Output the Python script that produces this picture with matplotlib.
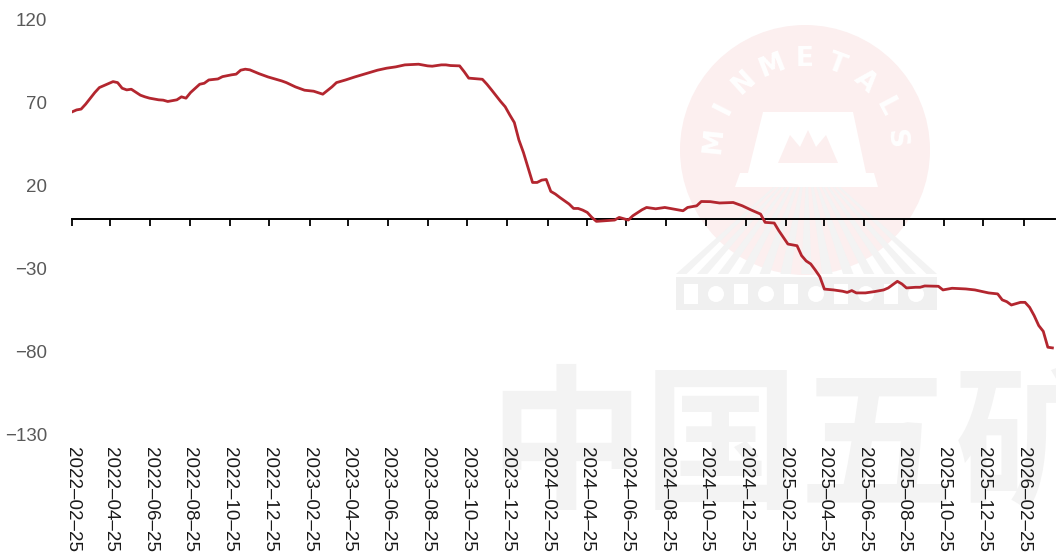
import numpy as np
import matplotlib
matplotlib.use("Agg")
import matplotlib.pyplot as plt
from matplotlib.patches import Ellipse, Polygon, Rectangle
from matplotlib.transforms import blended_transform_factory

# ---------------- data ----------------
start_date = "2022-02-25"
week_offsets = [0, 1, 2, 3, 5, 6, 8, 9, 10, 11, 12, 13, 15, 16, 17, 19, 20, 21, 23, 24,
                25, 26, 28, 29, 30, 32, 33, 35, 36, 37, 38, 39, 41, 43, 46, 47, 49, 51, 53, 55,
                57, 58, 60, 62, 65, 67, 69, 71, 73, 76, 78, 79, 81, 82, 83, 85, 86, 87, 90, 91,
                92, 94, 95, 96, 97, 98, 99, 100, 101, 102, 103, 104, 105, 106, 107, 109, 110, 111, 112, 113,
                114, 115, 117, 119, 120, 122, 123, 125, 126, 128, 130, 132, 134, 135, 137, 138, 140, 142, 145, 147,
                149, 151, 152, 154, 155, 156, 157, 159, 160, 161, 162, 163, 164, 165, 167, 169, 170, 171, 172, 174,
                176, 178, 179, 181, 182, 183, 185, 186, 187, 190, 191, 193, 196, 198, 201, 203, 204, 205, 206, 208,
                209, 210, 211, 212, 213, 214, 215]
values = [64.5, 65.7, 66.2, 69.2, 76.2, 79.2, 81.6, 82.8, 82.2, 78.8, 77.8, 78.2, 74.6, 73.6, 72.8, 71.8, 71.6, 70.8, 71.8, 73.6,
          72.8, 76.2, 81.2, 81.8, 83.8, 84.4, 85.8, 86.9, 87.3, 89.7, 90.3, 89.9, 87.6, 85.6, 83.2, 82.2, 79.6, 77.6, 77.0, 75.2,
          79.6, 82.2, 83.8, 85.6, 88.1, 89.7, 90.9, 91.7, 92.9, 93.3, 92.3, 92.1, 92.9, 92.9, 92.5, 92.3, 88.8, 84.9, 84.2, 81.2,
          77.8, 70.8, 67.6, 62.7, 58.1, 47.6, 40.0, 30.9, 21.9, 21.9, 23.3, 23.7, 16.5, 14.9, 12.8, 8.9, 6.2, 6.2, 5.2, 3.8,
          0.8, -1.6, -1.2, -0.8, 0.8, -0.8, 1.8, 5.4, 6.8, 6.0, 6.8, 5.8, 4.8, 6.8, 7.8, 10.4, 10.3, 9.5, 9.8, 7.8,
          5.2, 2.8, -2.2, -2.6, -7.2, -11.3, -15.3, -16.3, -22.3, -25.5, -27.3, -31.0, -35.0, -42.5, -43.0, -43.8, -44.5, -43.4, -44.8, -44.8,
          -44.0, -43.0, -41.8, -37.8, -39.4, -41.8, -41.4, -41.4, -40.6, -40.8, -43.0, -42.0, -42.4, -43.0, -44.8, -45.4, -49.0, -50.1, -52.1, -50.5,
          -50.5, -53.5, -58.5, -64.5, -68.0, -77.6, -78.0]
tick_labels = ["2022-02-25", "2022-04-25", "2022-06-25", "2022-08-25", "2022-10-25", "2022-12-25",
               "2023-02-25", "2023-04-25", "2023-06-25", "2023-08-25", "2023-10-25", "2023-12-25",
               "2024-02-25", "2024-04-25", "2024-06-25", "2024-08-25", "2024-10-25", "2024-12-25",
               "2025-02-25", "2025-04-25", "2025-06-25", "2025-08-25", "2025-10-25", "2025-12-25",
               "2026-02-25"]
y_ticks = [-130, -80, -30, 20, 70, 120]
x_end = "2026-04-14"

dates = np.datetime64(start_date) + np.array(week_offsets) * np.timedelta64(7, "D")

# ---------------- figure ----------------
W, H = 1056, 557
fig = plt.figure(figsize=(W / 100, H / 100), dpi=100)
fig.patch.set_facecolor("white")

def fp(x, y):
    return (x / W, 1 - y / H)

def add_poly(pts, color, z=-2):
    fig.add_artist(Polygon([fp(x, y) for x, y in pts], closed=True, transform=fig.transFigure,
                           facecolor=color, edgecolor="none", zorder=z))

# ---- watermark (figure pixel coordinates) ----
cx, cy, r = 805, 150, 125
fig.add_artist(Ellipse(fp(cx, cy), 2 * r / W, 2 * r / H, transform=fig.transFigure,
                       facecolor="#fcefef", edgecolor="none", zorder=-4))
# fan of grey rays
apex = (807, 157)
n_rays = 13
x0, x1 = 676, 937
edges = np.linspace(x0, x1, 2 * n_rays)
for k in range(n_rays):
    a, b = edges[2 * k], edges[2 * k + 1]
    add_poly([apex, (a, 274), (b, 274)], "#f3f3f3", z=-3)
# base bar with pattern
fig.add_artist(Rectangle(fp(676, 310), (937 - 676) / W, 33 / H, transform=fig.transFigure,
                         facecolor="#f0f0f0", edgecolor="none", zorder=-3))
for k in range(10):
    bx = 684 + k * 25
    if k % 2 == 0:
        fig.add_artist(Rectangle(fp(bx, 304), 14 / W, 20 / H, transform=fig.transFigure,
                                 facecolor="white", edgecolor="none", zorder=-2))
    else:
        fig.add_artist(Ellipse(fp(bx + 7, 294), 16 / W, 16 / H, transform=fig.transFigure,
                               facecolor="white", edgecolor="none", zorder=-2))
# white M
add_poly([(735, 187), (740, 173), (748, 173), (763, 112), (853, 112), (866, 173),
          (874, 173), (878, 187)], "white")
# pink inner mountain of the M
add_poly([(778, 163), (790, 135), (800, 147), (808, 130), (816, 147), (826, 135),
          (838, 163)], "#fcefef")
letters = "MINMETALS"
angles = np.linspace(174, 7, len(letters))
for ch, a in zip(letters, angles):
    ang = np.deg2rad(a)
    lx = cx + 91 * np.cos(ang)
    ly = cy - 91 * np.sin(ang)
    fig.text(*fp(lx, ly), ch, transform=fig.transFigure, ha="center", va="center",
             rotation=a - 90, fontsize=19, fontweight="bold",
             color="white", family="DejaVu Sans", zorder=-1)
fig.text(*fp(488, 372), "中国五矿", transform=fig.transFigure, ha="left", va="top",
         fontsize=112, fontweight="bold", color="#f3f3f3",
         family=["Noto Sans CJK SC", "DejaVu Sans"], zorder=-1)

# ---- axes ----
ax = fig.add_axes([72 / W, 1 - 434 / H, (1055 - 72) / W, (434 - 20) / H])
ax.patch.set_visible(False)
ax.plot(dates, values, color="#b3262f", linewidth=2.0, solid_joinstyle="round", zorder=3)

ax.set_ylim(-130, 120)
ax.set_xlim(np.datetime64(start_date), np.datetime64(x_end))
ax.set_yticks(y_ticks)
ax.set_yticklabels([str(v).replace("-", "\u2212") for v in y_ticks],
                   fontsize=13.5, color="#595959", family="Liberation Sans")
ax.tick_params(axis="y", length=0, pad=18)

for s in ["top", "right", "left"]:
    ax.spines[s].set_visible(False)
ax.spines["bottom"].set_position(("data", 0))
ax.spines["bottom"].set_linewidth(1.4)
ax.spines["bottom"].set_color("black")

tick_dates = [np.datetime64(t) for t in tick_labels]
ax.set_xticks(tick_dates)
ax.set_xticklabels([])
ax.tick_params(axis="x", direction="out", length=5, width=1.3, color="black")

trans = blended_transform_factory(ax.transData, ax.transAxes)
for d, lab in zip(tick_dates, tick_labels):
    ax.text(d, -0.031, lab.replace("-", "\u2013"), transform=trans, rotation=270,
            ha="center", va="top", fontsize=13.5, color="#1a1a1a",
            family="Liberation Sans", clip_on=False)

fig.savefig("out.png", dpi=100, facecolor="white")
